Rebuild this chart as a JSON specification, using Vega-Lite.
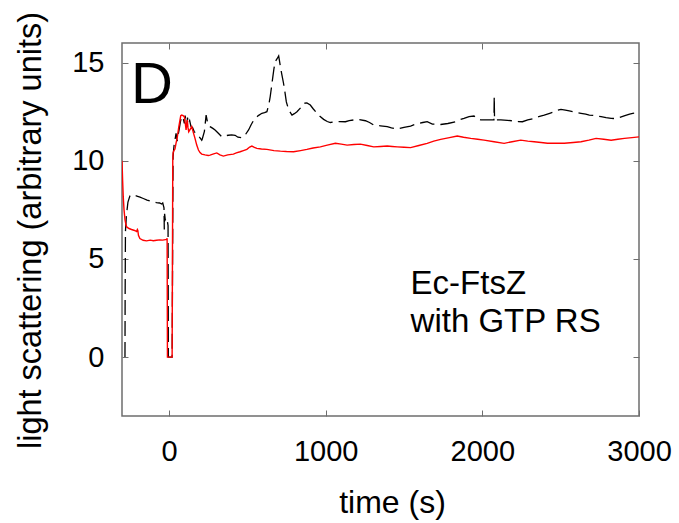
{
  "$schema": "https://vega.github.io/schema/vega-lite/v6.json",
  "width": 517,
  "height": 373,
  "autosize": {"type": "none"},
  "padding": {"left": 122, "top": 43, "right": 40, "bottom": 107},
  "background": "white",
  "config": {
    "view": {"stroke": "#6e6e6e", "strokeWidth": 1.5},
    "font": "Liberation Sans",
    "axis": {
      "domain": false, "grid": false, "tickColor": "#6e6e6e", "tickWidth": 1,
      "labelFont": "Liberation Sans", "titleFont": "Liberation Sans",
      "labelColor": "black", "titleColor": "black", "labelFontWeight": "normal", "titleFontWeight": "normal",
      "labelOverlap": false, "labelFlush": false
    }
  },
  "datasets": {
    "black": [
      {"t": -281, "v": 0}, {"t": -280, "v": 3.0}, {"t": -278, "v": 6.4}, {"t": -272, "v": 7.2}, {"t": -262, "v": 7.9},
      {"t": -250, "v": 8.2}, {"t": -239, "v": 8.28}, {"t": -225, "v": 8.25}, {"t": -205, "v": 8.2}, {"t": -185, "v": 8.15},
      {"t": -164, "v": 8.08}, {"t": -140, "v": 8.0}, {"t": -120, "v": 7.95}, {"t": -100, "v": 7.92}, {"t": -80, "v": 7.87},
      {"t": -60, "v": 7.85}, {"t": -47, "v": 7.8}, {"t": -40, "v": 7.85}, {"t": -32, "v": 7.6}, {"t": -30, "v": 6.5},
      {"t": -28, "v": 7.3}, {"t": -24, "v": 7.0}, {"t": -18, "v": 7.1}, {"t": -14, "v": 7.05}, {"t": -10, "v": 6.9},
      {"t": -6, "v": 6.7}, {"t": -4, "v": 0}, {"t": 0, "v": 0}, {"t": 10, "v": 0}, {"t": 20, "v": 0},
      {"t": 23, "v": 5}, {"t": 26, "v": 10.2}, {"t": 30, "v": 10.6}, {"t": 34, "v": 10.9}, {"t": 38, "v": 11.05},
      {"t": 45, "v": 11.4}, {"t": 52, "v": 11.0}, {"t": 58, "v": 11.3}, {"t": 65, "v": 11.6}, {"t": 73, "v": 12.0},
      {"t": 81, "v": 12.25}, {"t": 90, "v": 12.2}, {"t": 98, "v": 11.9}, {"t": 103, "v": 12.3}, {"t": 108, "v": 12.0},
      {"t": 113, "v": 11.7}, {"t": 118, "v": 12.2}, {"t": 124, "v": 11.9}, {"t": 132, "v": 12.05}, {"t": 140, "v": 11.75},
      {"t": 150, "v": 11.7}, {"t": 160, "v": 11.5}, {"t": 175, "v": 11.35}, {"t": 190, "v": 11.25}, {"t": 209, "v": 11.05},
      {"t": 212, "v": 11.1}, {"t": 226, "v": 11.5}, {"t": 237, "v": 12.33}, {"t": 245, "v": 12.0}, {"t": 255, "v": 11.8},
      {"t": 262, "v": 11.74}, {"t": 280, "v": 11.65}, {"t": 294, "v": 11.57}, {"t": 315, "v": 11.4}, {"t": 337, "v": 11.22},
      {"t": 360, "v": 11.28}, {"t": 380, "v": 11.3}, {"t": 400, "v": 11.32}, {"t": 422, "v": 11.3}, {"t": 440, "v": 11.2},
      {"t": 465, "v": 11.17}, {"t": 485, "v": 11.3}, {"t": 508, "v": 11.57}, {"t": 525, "v": 11.85}, {"t": 544, "v": 12.11},
      {"t": 570, "v": 12.3}, {"t": 593, "v": 12.42}, {"t": 610, "v": 12.45}, {"t": 625, "v": 12.5}, {"t": 638, "v": 12.9},
      {"t": 646, "v": 13.27}, {"t": 655, "v": 13.8}, {"t": 663, "v": 14.29}, {"t": 670, "v": 14.7}, {"t": 678, "v": 15.05},
      {"t": 690, "v": 15.2}, {"t": 700, "v": 15.34}, {"t": 705, "v": 15.1}, {"t": 711, "v": 14.8}, {"t": 720, "v": 14.4},
      {"t": 731, "v": 13.95}, {"t": 740, "v": 13.5}, {"t": 749, "v": 13.0}, {"t": 760, "v": 12.7}, {"t": 775, "v": 12.45},
      {"t": 785, "v": 12.33}, {"t": 800, "v": 12.4}, {"t": 817, "v": 12.5}, {"t": 840, "v": 12.7}, {"t": 864, "v": 12.93},
      {"t": 880, "v": 12.95}, {"t": 902, "v": 12.84}, {"t": 920, "v": 12.65}, {"t": 945, "v": 12.42}, {"t": 965, "v": 12.25},
      {"t": 987, "v": 12.11}, {"t": 1010, "v": 12.0}, {"t": 1030, "v": 11.95}, {"t": 1060, "v": 11.98}, {"t": 1090, "v": 12.0},
      {"t": 1126, "v": 11.99}, {"t": 1150, "v": 12.05}, {"t": 1179, "v": 12.08}, {"t": 1210, "v": 12.1}, {"t": 1254, "v": 12.04},
      {"t": 1280, "v": 11.95}, {"t": 1307, "v": 11.82}, {"t": 1350, "v": 11.78}, {"t": 1393, "v": 11.74}, {"t": 1420, "v": 11.68},
      {"t": 1457, "v": 11.62}, {"t": 1500, "v": 11.7}, {"t": 1542, "v": 11.77}, {"t": 1570, "v": 11.85}, {"t": 1595, "v": 11.9},
      {"t": 1620, "v": 11.95}, {"t": 1648, "v": 11.99}, {"t": 1681, "v": 11.87}, {"t": 1710, "v": 11.87}, {"t": 1734, "v": 11.85},
      {"t": 1780, "v": 11.9}, {"t": 1830, "v": 11.99}, {"t": 1860, "v": 12.1}, {"t": 1883, "v": 12.16}, {"t": 1915, "v": 12.25},
      {"t": 1947, "v": 12.28}, {"t": 1970, "v": 12.15}, {"t": 1990, "v": 12.08}, {"t": 2030, "v": 12.08}, {"t": 2074, "v": 12.08},
      {"t": 2076, "v": 13.27}, {"t": 2078, "v": 12.08}, {"t": 2118, "v": 12.08}, {"t": 2160, "v": 12.06}, {"t": 2203, "v": 12.03},
      {"t": 2230, "v": 12.0}, {"t": 2256, "v": 11.99}, {"t": 2290, "v": 12.08}, {"t": 2331, "v": 12.16}, {"t": 2360, "v": 12.25},
      {"t": 2395, "v": 12.33}, {"t": 2430, "v": 12.42}, {"t": 2459, "v": 12.5}, {"t": 2480, "v": 12.58}, {"t": 2502, "v": 12.62},
      {"t": 2530, "v": 12.58}, {"t": 2555, "v": 12.54}, {"t": 2590, "v": 12.48}, {"t": 2630, "v": 12.42}, {"t": 2660, "v": 12.38},
      {"t": 2683, "v": 12.33}, {"t": 2720, "v": 12.3}, {"t": 2758, "v": 12.25}, {"t": 2790, "v": 12.2}, {"t": 2822, "v": 12.16},
      {"t": 2850, "v": 12.15}, {"t": 2875, "v": 12.2}, {"t": 2910, "v": 12.3}, {"t": 2940, "v": 12.38}, {"t": 2960, "v": 12.42},
      {"t": 2985, "v": 12.45}, {"t": 3000, "v": 12.47}
    ],
    "red": [
      {"t": -300, "v": 10.0}, {"t": -296, "v": 9.0}, {"t": -292, "v": 8.16}, {"t": -287, "v": 7.5}, {"t": -281, "v": 7.0},
      {"t": -275, "v": 6.75}, {"t": -270, "v": 6.63}, {"t": -255, "v": 6.55}, {"t": -239, "v": 6.5}, {"t": -220, "v": 6.45},
      {"t": -207, "v": 6.4}, {"t": -202, "v": 6.5}, {"t": -199, "v": 6.45}, {"t": -195, "v": 6.2}, {"t": -186, "v": 6.04},
      {"t": -165, "v": 5.95}, {"t": -143, "v": 5.92}, {"t": -120, "v": 5.96}, {"t": -100, "v": 5.93}, {"t": -79, "v": 5.95},
      {"t": -60, "v": 5.97}, {"t": -40, "v": 5.96}, {"t": -15, "v": 6.0}, {"t": -12, "v": 6.05}, {"t": -10, "v": 0},
      {"t": 0, "v": 0}, {"t": 10, "v": 0}, {"t": 20, "v": 0}, {"t": 24, "v": 10.0}, {"t": 26, "v": 10.4},
      {"t": 30, "v": 10.5}, {"t": 38, "v": 10.6}, {"t": 45, "v": 10.9}, {"t": 53, "v": 11.2}, {"t": 62, "v": 11.7},
      {"t": 70, "v": 12.07}, {"t": 75, "v": 12.3}, {"t": 81, "v": 12.33}, {"t": 90, "v": 12.3}, {"t": 98, "v": 12.25},
      {"t": 104, "v": 11.9}, {"t": 109, "v": 11.57}, {"t": 113, "v": 11.9}, {"t": 117, "v": 12.07}, {"t": 121, "v": 11.7},
      {"t": 126, "v": 11.48}, {"t": 135, "v": 11.6}, {"t": 145, "v": 11.74}, {"t": 155, "v": 11.45}, {"t": 166, "v": 11.14},
      {"t": 177, "v": 10.8}, {"t": 188, "v": 10.55}, {"t": 198, "v": 10.42}, {"t": 209, "v": 10.34}, {"t": 230, "v": 10.3},
      {"t": 250, "v": 10.27}, {"t": 262, "v": 10.29}, {"t": 285, "v": 10.35}, {"t": 305, "v": 10.4}, {"t": 325, "v": 10.3},
      {"t": 347, "v": 10.24}, {"t": 375, "v": 10.3}, {"t": 411, "v": 10.34}, {"t": 430, "v": 10.4}, {"t": 454, "v": 10.46},
      {"t": 475, "v": 10.52}, {"t": 497, "v": 10.58}, {"t": 515, "v": 10.7}, {"t": 529, "v": 10.75}, {"t": 545, "v": 10.68},
      {"t": 561, "v": 10.63}, {"t": 590, "v": 10.6}, {"t": 625, "v": 10.58}, {"t": 670, "v": 10.52}, {"t": 711, "v": 10.49},
      {"t": 750, "v": 10.47}, {"t": 795, "v": 10.46}, {"t": 840, "v": 10.52}, {"t": 880, "v": 10.58}, {"t": 920, "v": 10.65},
      {"t": 966, "v": 10.71}, {"t": 1010, "v": 10.8}, {"t": 1062, "v": 10.89}, {"t": 1100, "v": 10.85}, {"t": 1137, "v": 10.8},
      {"t": 1180, "v": 10.83}, {"t": 1222, "v": 10.85}, {"t": 1265, "v": 10.78}, {"t": 1307, "v": 10.71}, {"t": 1350, "v": 10.73},
      {"t": 1393, "v": 10.75}, {"t": 1425, "v": 10.73}, {"t": 1457, "v": 10.71}, {"t": 1500, "v": 10.69}, {"t": 1542, "v": 10.67},
      {"t": 1595, "v": 10.78}, {"t": 1648, "v": 10.89}, {"t": 1690, "v": 11.0}, {"t": 1734, "v": 11.09}, {"t": 1790, "v": 11.18},
      {"t": 1840, "v": 11.26}, {"t": 1880, "v": 11.2}, {"t": 1926, "v": 11.14}, {"t": 1970, "v": 11.1}, {"t": 2011, "v": 11.05},
      {"t": 2075, "v": 10.97}, {"t": 2139, "v": 10.89}, {"t": 2190, "v": 10.97}, {"t": 2245, "v": 11.05}, {"t": 2290, "v": 11.0},
      {"t": 2331, "v": 10.97}, {"t": 2375, "v": 10.93}, {"t": 2416, "v": 10.89}, {"t": 2470, "v": 10.89}, {"t": 2523, "v": 10.89},
      {"t": 2580, "v": 10.93}, {"t": 2630, "v": 10.97}, {"t": 2680, "v": 11.05}, {"t": 2726, "v": 11.14}, {"t": 2775, "v": 11.1},
      {"t": 2822, "v": 11.05}, {"t": 2865, "v": 11.1}, {"t": 2907, "v": 11.14}, {"t": 2955, "v": 11.18}, {"t": 3000, "v": 11.22}
    ]
  },
  "resolve": {"axis": {"x": "independent", "y": "independent"}},
  "layer": [
    {
      "data": {"name": "black"},
      "mark": {"type": "line", "color": "black", "strokeWidth": 1.3, "strokeDash": [15, 6], "clip": true},
      "encoding": {
        "x": {"field": "t", "type": "quantitative", "scale": {"domain": [-300, 3000], "nice": false, "zero": false},
          "axis": {"orient": "bottom", "values": [0, 1000, 2000, 3000], "format": "d", "tickSize": -6, "labelPadding": 27, "labelFontSize": 29,
            "title": "time (s)", "titleFontSize": 32, "titleX": 270, "titleY": 96, "titleBaseline": "alphabetic", "titleAlign": "center"}},
        "y": {"field": "v", "type": "quantitative", "scale": {"domain": [-3, 16], "nice": false, "zero": false},
          "axis": {"orient": "left", "values": [0, 5, 10, 15], "format": "d", "tickSize": -6, "labelPadding": 24, "labelFontSize": 29,
            "title": "light scattering (arbitrary units)", "titleFontSize": 32.5, "titleX": -82, "titleY": 187, "titleBaseline": "alphabetic", "titleAlign": "center", "titleAngle": 270}}
      }
    },
    {
      "data": {"name": "red"},
      "mark": {"type": "line", "color": "#ff0000", "strokeWidth": 1.4, "clip": true},
      "encoding": {
        "x": {"field": "t", "type": "quantitative",
          "axis": {"orient": "top", "values": [0, 1000, 2000], "tickSize": -6, "labels": false, "title": null}},
        "y": {"field": "v", "type": "quantitative",
          "axis": {"orient": "right", "values": [0, 5, 10, 15], "tickSize": -6, "labels": false, "title": null}}
      }
    },
    {
      "data": {"values": [{"label": "D"}]},
      "mark": {"type": "text", "fontSize": 58, "align": "left", "baseline": "alphabetic", "color": "black"},
      "encoding": {
        "text": {"field": "label"},
        "x": {"datum": -243, "type": "quantitative", "axis": null},
        "y": {"datum": 12.93, "type": "quantitative", "axis": null}
      }
    },
    {
      "data": {"values": [{"label": "Ec-FtsZ"}]},
      "mark": {"type": "text", "text": ["Ec-FtsZ", "with GTP RS"], "fontSize": 33, "lineHeight": 38, "align": "left", "baseline": "alphabetic", "color": "black"},
      "encoding": {
        "x": {"datum": 1542, "type": "quantitative", "axis": null},
        "y": {"datum": 3.2, "type": "quantitative", "axis": null}
      }
    }
  ]
}
